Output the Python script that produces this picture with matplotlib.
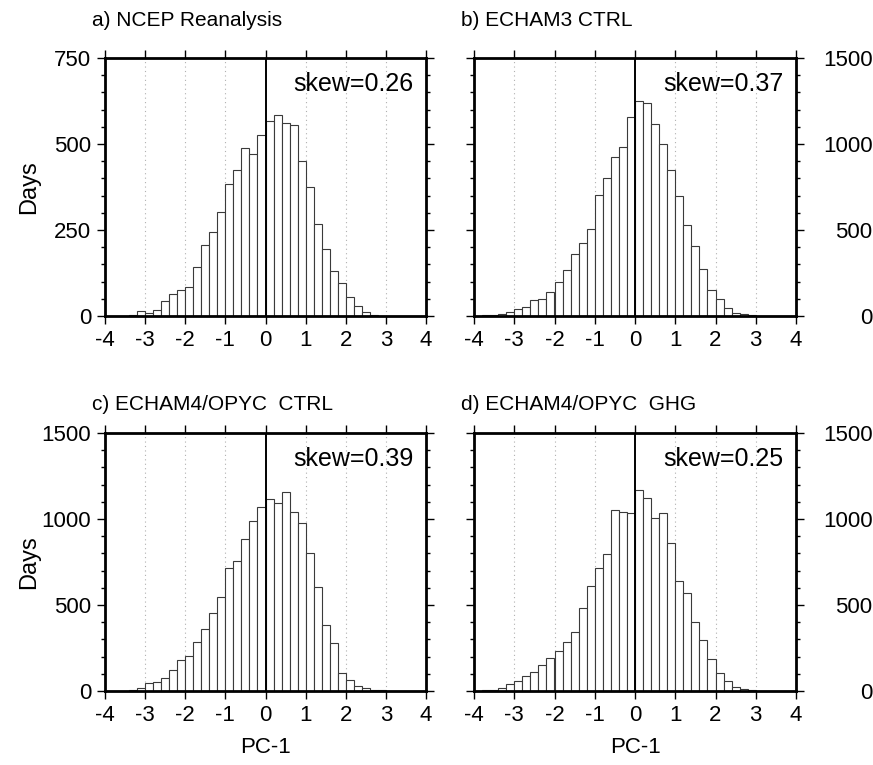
import numpy as np
import matplotlib
matplotlib.use('Agg')
import matplotlib.pyplot as plt
from matplotlib.ticker import MultipleLocator

plt.rcParams['font.family'] = ['Liberation Sans', 'DejaVu Sans']

# histogram bins of PC-1, width 0.2 from -4 to 4
bin_width = 0.2
bin_left = np.round(np.arange(-4.0, 4.0, bin_width), 1)

days_ncep = [0, 0, 0, 3, 14, 9, 18, 43, 65, 76, 85, 142, 207, 245, 303, 384,
             425, 487, 470, 526, 568, 585, 560, 554, 450, 374, 266, 196, 132,
             95, 55, 28, 13, 3, 1, 0, 0, 0, 0, 0]
days_echam3 = [0, 6, 6, 10, 25, 39, 51, 93, 101, 140, 195, 267, 362, 426, 506,
               706, 804, 924, 981, 1156, 1249, 1237, 1117, 998, 850, 700, 527,
               405, 276, 150, 99, 47, 19, 10, 4, 0, 0, 0, 0, 0]
days_e4_ctrl = [0, 0, 0, 3, 19, 48, 50, 77, 122, 178, 203, 285, 359, 452, 548,
                713, 757, 883, 986, 1068, 1118, 1093, 1155, 1043, 979, 802, 604,
                384, 277, 103, 62, 29, 15, 7, 3, 0, 0, 0, 0, 0]
days_e4_ghg = [0, 3, 8, 20, 40, 60, 85, 110, 150, 190, 230, 287, 341, 482, 608,
               715, 794, 1054, 1041, 1037, 1167, 1120, 1006, 1035, 858, 641, 567,
               404, 296, 186, 103, 58, 25, 10, 4, 0, 0, 0, 0, 0]

titles = ['a) NCEP Reanalysis', 'b) ECHAM3 CTRL',
          'c) ECHAM4/OPYC  CTRL', 'd) ECHAM4/OPYC  GHG']
skews = [0.26, 0.37, 0.39, 0.25]
ymax = [750, 1500, 1500, 1500]
ymajor = [250, 500, 500, 500]
yminor = [50, 100, 100, 100]
xticks = [-4, -3, -2, -1, 0, 1, 2, 3, 4]

W, H = 873, 765
fig = plt.figure(figsize=(W / 100, H / 100), dpi=100)

# panel frames in pixels: left, right, top, bottom
frames = [(105, 426, 58, 316), (474, 796, 58, 316),
          (105, 426, 433, 691), (474, 796, 433, 691)]
title_y = [20, 20, 405, 405]
data = [days_ncep, days_echam3, days_e4_ctrl, days_e4_ghg]

for k in range(4):
    l, r, t, b = frames[k]
    ax = fig.add_axes([l / W, 1 - b / H, (r - l) / W, (b - t) / H])
    ax.bar(bin_left, data[k], width=bin_width, align='edge', color='white',
           edgecolor='#3a3a3a', linewidth=0.8, zorder=2)
    for gx in [-3, -2, -1, 1, 2, 3]:
        ax.axvline(gx, color='#b0b0b0', linestyle=(0, (1, 3)), linewidth=0.8,
                   zorder=1)
    ax.axvline(0, color='black', linewidth=1.4, zorder=3)
    ax.set_xlim(-4, 4)
    ax.set_ylim(0, ymax[k])
    ax.set_xticks(xticks)
    ax.set_xticklabels([str(v) for v in xticks])
    ax.yaxis.set_major_locator(MultipleLocator(ymajor[k]))
    ax.yaxis.set_minor_locator(MultipleLocator(yminor[k]))
    right = (k % 2 == 1)
    ax.tick_params(axis='both', which='major', direction='out', length=6,
                   width=1, labelsize=16, top=True, right=True,
                   left=True, bottom=True, pad=4)
    ax.tick_params(axis='y', which='minor', direction='out', length=3,
                   width=1, left=True, right=True)
    if right:
        # right-hand labels sit flush against the figure edge
        ax.tick_params(axis='y', labelleft=False, labelright=True, pad=49)
        for lab in ax.get_yticklabels():
            lab.set_horizontalalignment('right')
    for s in ax.spines.values():
        s.set_linewidth(2)
    ax.text(0.96, 0.9, 'skew=%.2f' % skews[k], transform=ax.transAxes,
            ha='right', va='center', fontsize=18)
    fig.text((l - 13) / W, 1 - title_y[k] / H, titles[k], ha='left',
             va='center', fontsize=15)
    if not right:
        ax.set_ylabel('Days', fontsize=17)
        ax.yaxis.set_label_coords((40 - l) / (r - l), 0.5)
    if k >= 2:
        ax.set_xlabel('PC-1', fontsize=16, labelpad=8)

fig.savefig('out.png', dpi=100)
